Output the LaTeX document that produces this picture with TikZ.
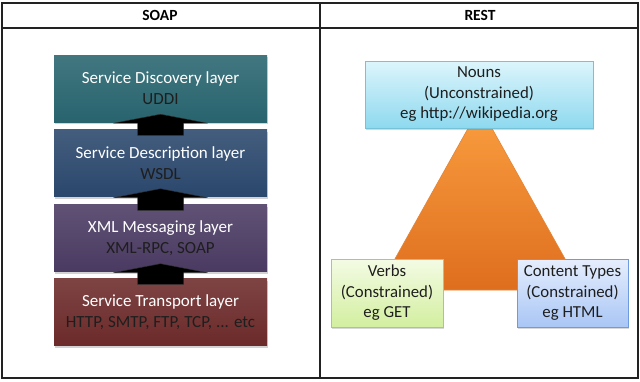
\documentclass[tikz,border=0pt]{standalone}
\usepackage{fontspec}
\setmainfont{Carlito}
\usetikzlibrary{calc,shadows}
\definecolor{frameclr}{HTML}{222222}
\definecolor{subclr}{HTML}{1E1E1E}
\definecolor{discclr}{HTML}{28646E}
\definecolor{descclr}{HTML}{2A476C}
\definecolor{msgclr}{HTML}{4A3A62}
\definecolor{trnclr}{HTML}{6C2A2A}
\definecolor{tritop}{HTML}{FA9E40}
\definecolor{tribot}{HTML}{DE6E1E}
\definecolor{triedge}{HTML}{E48436}
\definecolor{nountop}{HTML}{DDF5FC}
\definecolor{nounbot}{HTML}{8ED9EF}
\definecolor{nounedge}{HTML}{78C2D8}
\definecolor{verbtop}{HTML}{F4FBE4}
\definecolor{verbbot}{HTML}{D2EFA0}
\definecolor{verbedge}{HTML}{A6CF66}
\definecolor{cttop}{HTML}{E6EEFD}
\definecolor{ctbot}{HTML}{A9C6F5}
\definecolor{ctedge}{HTML}{6E9ADF}
\tikzset{
  frameline/.style={draw=frameclr, line width=2pt},
  hdr/.style={font=\fontsize{15.5}{18}\selectfont\bfseries, text=black},
  layer/.style={minimum width=213pt, minimum height=67pt, inner sep=0pt,
    align=center, font=\fontsize{17}{21}\selectfont,
    drop shadow={opacity=0.35, shadow xshift=1pt, shadow yshift=-2pt}},
  restbox/.style={inner sep=0pt, align=center, text=subclr,
    font=\fontsize{16.8}{20.5}\selectfont, line width=0.8pt,
    drop shadow={opacity=0.3, shadow xshift=1pt, shadow yshift=-2pt}},
  blockarrow/.style={fill=black, draw=black!80, line width=0.4pt}
}
\newcommand{\ttl}[1]{\textcolor{white}{#1}}
\newcommand{\sbt}[1]{\textcolor{subclr}{#1}}
\begin{document}
\begin{tikzpicture}[x=1pt,y=-1pt]
\useasboundingbox (0,0) rectangle (640,381);
\fill[white] (0,0) rectangle (640,381);
% table frame
\draw[frameline] (1.5,3) rectangle (638,378);
\draw[frameline] (1.5,28) -- (638,28);
\draw[frameline] (320,3) -- (320,378);
\node[hdr] (soap) at (160,15.5) {SOAP};
\node[hdr] (rest) at (480,15.5) {REST};
% SOAP layers
\node[layer, top color=discclr!88!white, bottom color=discclr] (disc) at (160.5,88.5)
  {\ttl{Service Discovery layer}\\\sbt{UDDI}};
\node[layer, top color=descclr!88!white, bottom color=descclr] (desc) at (160.5,163)
  {\ttl{Service Description layer}\\\sbt{WSDL}};
\node[layer, top color=msgclr!88!white, bottom color=msgclr] (msg) at (160.5,238)
  {\ttl{XML Messaging layer}\\\sbt{XML-RPC, SOAP}};
\node[layer, top color=trnclr!88!white, bottom color=trnclr] (trn) at (160.5,312)
  {\ttl{Service Transport layer}\\\sbt{HTTP, SMTP, FTP, TCP, ... etc}};
% block arrows
\foreach \up/\lo in {disc/desc, desc/msg, msg/trn}{
  \filldraw[blockarrow]
    ($(\up.south)+(-47,1)$) -- ($(\up.south)+(0,-8)$) -- ($(\up.south)+(47,1)$)
    -- ($(\up.south)+(23,1)$) -- ($(\lo.north)+(23,6)$) -- ($(\lo.north)+(-23,6)$)
    -- ($(\up.south)+(-23,1)$) -- cycle;
}
% REST triangle
\coordinate (apex) at (480,107);
\coordinate (bl) at (377.5,290);
\coordinate (br) at (582.5,290);
\shade[top color=tritop, bottom color=tribot, draw=triedge, line width=0.6pt]
  (apex) -- (br) -- (bl) -- cycle;
% REST boxes
\node[restbox, minimum width=228pt, minimum height=67pt,
  top color=nountop, bottom color=nounbot, draw=nounedge] (nouns) at (479,94.5)
  {Nouns\\(Unconstrained)\\eg http://wikipedia.org};
\node[restbox, minimum width=112pt, minimum height=68pt,
  top color=verbtop, bottom color=verbbot, draw=verbedge] (verbs) at (387,293)
  {Verbs\\(Constrained)\\eg GET};
\node[restbox, minimum width=111pt, minimum height=68pt,
  top color=cttop, bottom color=ctbot, draw=ctedge] (ctypes) at (572.5,293)
  {Content Types\\(Constrained)\\eg HTML};
\end{tikzpicture}
\end{document}
